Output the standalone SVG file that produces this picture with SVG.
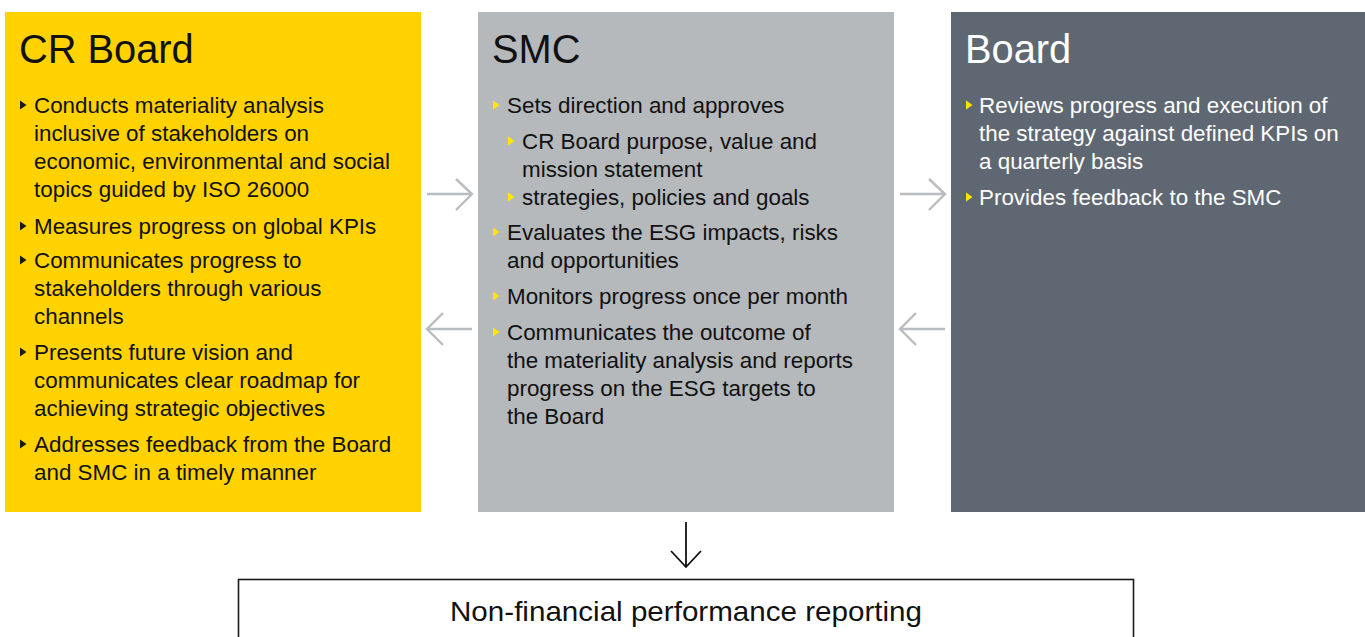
<svg xmlns="http://www.w3.org/2000/svg" width="1365" height="637" viewBox="0 0 1365 637">
  <style>
    .title { font-family: "Liberation Sans", Arial, sans-serif; font-size: 39.8px; }
    .body { font-family: "Liberation Sans", Arial, sans-serif; font-size: 22.4px; }
    .dark { fill: #111111; }
    .light { fill: #ffffff; }
    .conn { stroke: #b9bdc0; stroke-width: 2.4; fill: none; }
    .bul-k { fill: #1a1a1a; }
    .bul-y { fill: #ffe600; }
  </style>
  <defs>
    <polygon id="tri" points="0,-4.5 6.5,0 0,4.5"/>
  </defs>

  <rect width="1365" height="637" fill="#ffffff"/>

  <g id="node-cr-board">
    <rect x="5" y="12" width="416" height="500" fill="#ffd200"/>
    <text class="title dark" x="19" y="63">CR Board</text>
    <g class="bul-k">
      <use href="#tri" x="20" y="105"/>
      <use href="#tri" x="20" y="226"/>
      <use href="#tri" x="20" y="260"/>
      <use href="#tri" x="20" y="352"/>
      <use href="#tri" x="20" y="444"/>
    </g>
    <text class="body dark">
      <tspan x="34" y="113">Conducts materiality analysis</tspan>
      <tspan x="34" y="141">inclusive of stakeholders on</tspan>
      <tspan x="34" y="169">economic, environmental and social</tspan>
      <tspan x="34" y="197">topics guided by ISO 26000</tspan>
      <tspan x="34" y="234">Measures progress on global KPIs</tspan>
      <tspan x="34" y="268">Communicates progress to</tspan>
      <tspan x="34" y="296">stakeholders through various</tspan>
      <tspan x="34" y="324">channels</tspan>
      <tspan x="34" y="360">Presents future vision and</tspan>
      <tspan x="34" y="388">communicates clear roadmap for</tspan>
      <tspan x="34" y="416">achieving strategic objectives</tspan>
      <tspan x="34" y="452">Addresses feedback from the Board</tspan>
      <tspan x="34" y="480">and SMC in a timely manner</tspan>
    </text>
  </g>

  <g id="node-smc">
    <rect x="478" y="12" width="416" height="500" fill="#b5b9bc"/>
    <text class="title dark" x="492" y="63">SMC</text>
    <g class="bul-y">
      <use href="#tri" x="493" y="105"/>
      <use href="#tri" x="508" y="141"/>
      <use href="#tri" x="508" y="197"/>
      <use href="#tri" x="493" y="232"/>
      <use href="#tri" x="493" y="296"/>
      <use href="#tri" x="493" y="332"/>
    </g>
    <text class="body dark">
      <tspan x="507" y="113">Sets direction and approves</tspan>
      <tspan x="522" y="149">CR Board purpose, value and</tspan>
      <tspan x="522" y="177">mission statement</tspan>
      <tspan x="522" y="205">strategies, policies and goals</tspan>
      <tspan x="507" y="240">Evaluates the ESG impacts, risks</tspan>
      <tspan x="507" y="268">and opportunities</tspan>
      <tspan x="507" y="304">Monitors progress once per month</tspan>
      <tspan x="507" y="340">Communicates the outcome of</tspan>
      <tspan x="507" y="368">the materiality analysis and reports</tspan>
      <tspan x="507" y="396">progress on the ESG targets to</tspan>
      <tspan x="507" y="424">the Board</tspan>
    </text>
  </g>

  <g id="node-board">
    <rect x="951" y="12" width="414" height="500" fill="#5f6872"/>
    <text class="title light" x="965" y="63">Board</text>
    <g class="bul-y">
      <use href="#tri" x="966" y="105"/>
      <use href="#tri" x="966" y="197"/>
    </g>
    <text class="body light">
      <tspan x="979" y="113">Reviews progress and execution of</tspan>
      <tspan x="979" y="141">the strategy against defined KPIs on</tspan>
      <tspan x="979" y="169">a quarterly basis</tspan>
      <tspan x="979" y="205">Provides feedback to the SMC</tspan>
    </text>
  </g>

  <g id="node-reporting">
    <rect x="238.5" y="579.5" width="895" height="70" fill="#ffffff" stroke="#1a1a1a" stroke-width="1.6"/>
    <text x="686" y="621" text-anchor="middle" font-family="Liberation Sans, Arial, sans-serif" font-size="28" textLength="472" lengthAdjust="spacingAndGlyphs" fill="#111111">Non-financial performance reporting</text>
  </g>

  <g id="connectors">
    <path class="conn" d="M427 194 H472 M456 179 L472 194 L456 210"/>
    <path class="conn" d="M472 329 H427 M443 313 L427 329 L443 345"/>
    <path class="conn" d="M900 194 H945 M929 179 L945 194 L929 210"/>
    <path class="conn" d="M945 329 H900 M916 313 L900 329 L916 345"/>
    <path d="M686 522 V567 M671 551 L686 567 L701 551" stroke="#111111" stroke-width="1.8" fill="none"/>
  </g>
</svg>
